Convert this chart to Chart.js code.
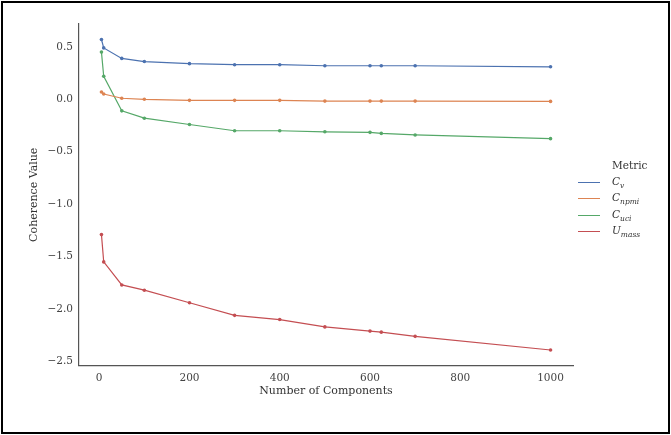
<!DOCTYPE html>
<html>
<head>
<meta charset="utf-8">
<script src="https://cdn.jsdelivr.net/npm/chart.js@4.4.0/dist/chart.umd.min.js"></script>
<style>
  html, body { margin: 0; padding: 0; background: #fff; }
  #wrap { position: relative; width: 671px; height: 435px; }
  #frame { position: absolute; left: 1px; top: 1px; width: 665px; height: 429px; border: 2px solid #000; pointer-events: none; }
  #chart { position: absolute; left: 0; top: 0; }
  #legend { position: absolute; left: 578px; top: 157px; font-family: "DejaVu Serif", serif; font-size: 10.5px; color: #333; }
  #legend .title { margin-left: 34px; height: 17px; line-height: 17px; font-size: 10.5px; }
  #legend .row { display: flex; align-items: center; height: 16.5px; }
  #legend .swatch { width: 22px; height: 1.4px; margin-right: 12px; }
  #legend i sub { font-size: 7.5px; }
</style>
</head>
<body>
<div id="wrap">
  <canvas id="chart" width="671" height="435"></canvas>
  <div id="legend"></div>
  <div id="frame"></div>
</div>
<script>
// number of components on the x axis
const components = [5, 10, 50, 100, 200, 300, 400, 500, 600, 625, 700, 1000];

// coherence values per metric
const cv    = [0.57, 0.49, 0.39, 0.36, 0.34, 0.33, 0.33, 0.32, 0.32, 0.32, 0.32, 0.31];
const cnpmi = [0.07, 0.05, 0.01, 0.00, -0.01, -0.01, -0.01, -0.017, -0.017, -0.017, -0.017, -0.02];
const cuci  = [0.45, 0.22, -0.11, -0.18, -0.24, -0.30, -0.30, -0.31, -0.315, -0.325, -0.34, -0.375];
const umass = [-1.29, -1.55, -1.77, -1.82, -1.94, -2.06, -2.10, -2.17, -2.21, -2.22, -2.26, -2.39];

const xTicks = [0, 200, 400, 600, 800, 1000];
const yTicks = [0.5, 0.0, -0.5, -1.0, -1.5, -2.0, -2.5];

const metrics = [
  { name: "C", sub: "v", data: cv, color: "#4c72b0" },
  { name: "C", sub: "npmi", data: cnpmi, color: "#dd8452" },
  { name: "C", sub: "uci", data: cuci, color: "#55a868" },
  { name: "U", sub: "mass", data: umass, color: "#c44e52" }
];

const serif = "'DejaVu Serif', serif";

const datasets = metrics.map(m => ({
  label: m.name + "_" + m.sub,
  data: components.map((x, i) => ({ x: x, y: m.data[i] })),
  borderColor: m.color,
  backgroundColor: m.color,
  borderWidth: 1.2,
  pointRadius: 1.8,
  pointBorderWidth: 0,
  tension: 0
}));

new Chart(document.getElementById("chart"), {
  type: "line",
  data: { datasets: datasets },
  options: {
    responsive: false,
    animation: false,
    layout: { padding: { top: 24, right: 98, left: 0, bottom: 37.5 } },
    plugins: { legend: { display: false }, tooltip: { enabled: false } },
    scales: {
      x: {
        type: "linear",
        min: -44.75,
        max: 1049.75,
        grid: { display: false, drawTicks: false },
        border: { display: true, color: "#555", width: 1.2 },
        afterFit: s => { s.height = 32; },
        afterBuildTicks: s => { s.ticks = xTicks.map(v => ({ value: v })); },
        ticks: {
          color: "#444",
          padding: 6,
          font: { family: serif, size: 10.5 },
          callback: v => String(v)
        },
        title: {
          display: true,
          text: "Number of Components",
          color: "#333",
          font: { family: serif, size: 11 },
          padding: { top: 0, bottom: 0 }
        }
      },
      y: {
        min: -2.538,
        max: 0.718,
        grid: { display: false, drawTicks: false },
        border: { display: true, color: "#555", width: 1.2 },
        afterFit: s => { s.width = 79; },
        afterBuildTicks: s => { s.ticks = yTicks.map(v => ({ value: v })); },
        ticks: {
          color: "#444",
          padding: 6,
          font: { family: serif, size: 10.5 },
          callback: v => (v < 0 ? "\u2212" : "") + Math.abs(v).toFixed(1)
        },
        title: {
          display: true,
          text: "Coherence Value",
          color: "#333",
          font: { family: serif, size: 11 },
          padding: { top: 28, bottom: 0 }
        }
      }
    }
  }
});

// legend with subscripts, kept as html text
const legend = document.getElementById("legend");
let html = '<div class="title">Metric</div>';
metrics.forEach(m => {
  html += '<div class="row"><span class="swatch" style="background:' + m.color + '"></span>' +
          '<i>' + m.name + '<sub>' + m.sub + '</sub></i></div>';
});
legend.innerHTML = html;
</script>
</body>
</html>
